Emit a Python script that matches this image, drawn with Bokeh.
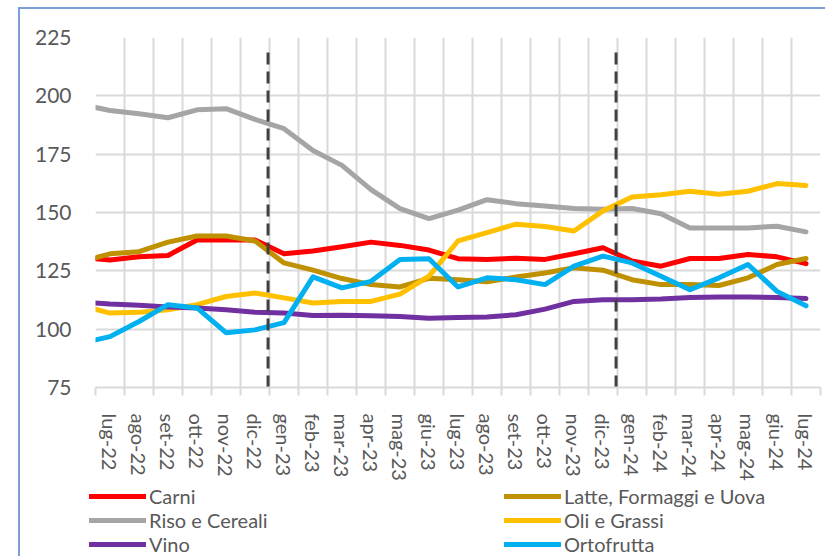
import numpy as np
from bokeh.plotting import figure
from bokeh.layouts import column
from bokeh.models import FixedTicker, Legend, LegendItem, Range1d, ColumnDataSource
from bokeh.embed import file_html
from bokeh.resources import INLINE

# months: first entry is the (hidden) month before the window, partly visible at the left edge
months = ['giu-22', 'lug-22', 'ago-22', 'set-22', 'ott-22', 'nov-22', 'dic-22',
          'gen-23', 'feb-23', 'mar-23', 'apr-23', 'mag-23', 'giu-23', 'lug-23',
          'ago-23', 'set-23', 'ott-23', 'nov-23', 'dic-23', 'gen-24', 'feb-24',
          'mar-24', 'apr-24', 'mag-24', 'giu-24', 'lug-24']

carni = [130.8, 129.6, 131.0, 131.6, 138.2, 138.2, 138.2, 132.3, 133.5, 135.3, 137.3, 135.9, 133.9,
         130.2, 129.9, 130.4, 129.9, 132.3, 134.9, 129.2, 127.0, 130.3, 130.3, 132.0, 131.0, 128.1]
latte = [128.9, 132.3, 133.2, 137.3, 139.9, 139.9, 137.8, 128.4, 125.3, 121.7, 119.1, 118.1, 121.8,
         121.2, 120.3, 122.4, 124.1, 126.3, 125.3, 121.2, 119.1, 119.1, 118.7, 122.0, 127.7, 130.3]
riso = [196.3, 193.7, 192.3, 190.6, 194.0, 194.5, 189.9, 185.9, 176.6, 170.2, 159.8, 151.7, 147.4,
        151.0, 155.5, 153.8, 152.8, 151.7, 151.4, 151.7, 149.5, 143.4, 143.4, 143.4, 144.1, 141.7]
oli = [110.1, 106.9, 107.2, 108.3, 110.5, 114.0, 115.5, 113.4, 111.2, 111.9, 111.9, 115.0, 122.7,
       137.8, 141.4, 145.0, 144.0, 142.1, 150.7, 156.6, 157.6, 159.1, 157.8, 159.1, 162.4, 161.6]
vino = [111.6, 110.8, 110.3, 109.5, 109.1, 108.3, 107.3, 106.9, 105.9, 106.0, 105.7, 105.4, 104.7,
        105.0, 105.2, 106.2, 108.6, 111.9, 112.6, 112.6, 112.9, 113.6, 113.8, 113.8, 113.6, 113.1]
orto = [94.0, 96.8, 103.3, 110.5, 109.1, 98.5, 99.7, 102.8, 122.4, 117.7, 120.5, 129.9, 130.2,
        118.1, 122.0, 121.2, 119.1, 127.0, 131.3, 128.4, 122.7, 116.9, 122.0, 127.7, 116.2, 110.0]

series_names = ["Carni", "Latte, Formaggi e Uova", "Riso e Cereali", "Oli e Grassi", "Vino", "Ortofrutta"]
series_values = [carni, latte, riso, oli, vino, orto]
series_colors = ["#FF0000", "#BF9000", "#A5A5A5", "#FFC000", "#7030A0", "#00B0F0"]

event_months = ['dic-22', 'dic-23']
y_ticks = [75, 100, 125, 150, 175, 200, 225]

FONT = "Lato"
TXT = "#595959"
W = 805

x = np.arange(len(months)) - 1          # index of 'lug-22' is 0
visible = list(range(len(months) - 1))  # 0..24
labels = {i: months[i + 1] for i in visible}

p = figure(frame_width=725, frame_height=350, output_backend="svg", toolbar_location=None,
           x_range=Range1d(-0.5, len(visible) - 0.5), y_range=Range1d(75, 225))
p.min_border_left = 75
p.min_border_top = 28
p.min_border_right = 5
p.min_border_bottom = 97
p.outline_line_color = None
p.background_fill_color = "white"
p.border_fill_color = "white"

# grids
p.xgrid.ticker = FixedTicker(ticks=[i - 0.5 for i in range(len(visible) + 1)])
p.ygrid.ticker = FixedTicker(ticks=y_ticks)
for g in (p.xgrid, p.ygrid):
    g.grid_line_color = "#D9D9D9"
    g.grid_line_width = 2

# x axis
xa = p.xaxis[0]
xa.ticker = FixedTicker(ticks=visible, minor_ticks=[i - 0.5 for i in range(len(visible) + 1)])
xa.major_label_overrides = labels
xa.major_label_orientation = "vertical"
xa.major_tick_line_color = None
xa.major_tick_out = 0
xa.major_tick_in = 0
xa.minor_tick_line_color = "#D9D9D9"
xa.minor_tick_line_width = 2
xa.minor_tick_out = 8
xa.minor_tick_in = 0
xa.axis_line_color = "#D9D9D9"
xa.axis_line_width = 2
xa.major_label_standoff = 18
xa.major_label_text_font = FONT
xa.major_label_text_font_size = "20px"
xa.major_label_text_color = TXT

# y axis
ya = p.yaxis[0]
ya.ticker = FixedTicker(ticks=y_ticks)
ya.axis_line_color = None
ya.major_tick_line_color = None
ya.minor_tick_line_color = None
ya.major_label_standoff = 18
ya.major_label_text_font = FONT
ya.major_label_text_font_size = "21px"
ya.major_label_text_color = TXT

for name, vals, col in zip(series_names, series_values, series_colors):
    src = ColumnDataSource(dict(x=x, y=vals))
    p.line("x", "y", source=src, line_color=col, line_width=5,
           line_cap="round", line_join="round")

# event lines (December markers)
ev_x = [months.index(m) - 1 + 0.45 for m in event_months]
p.segment(x0=ev_x, x1=ev_x, y0=[75] * len(ev_x), y1=[220] * len(ev_x),
          line_color="#404040", line_width=3, line_dash="12 7")

# legend strip below the chart (its own small plot; series lie outside its range)
LH = 72
pl = figure(width=W, height=LH, output_backend="svg", toolbar_location=None,
            x_range=Range1d(0, W), y_range=Range1d(0, LH))
pl.axis.visible = False
pl.grid.visible = False
pl.outline_line_color = None
pl.min_border_left = 0
pl.min_border_right = 0
pl.min_border_top = 0
pl.min_border_bottom = 0

leg_r = []
for name, vals, col in zip(series_names, series_values, series_colors):
    leg_r.append(pl.line(x=list(x), y=vals, line_color=col, line_width=5, line_cap="round"))

def make_legend(idx, loc):
    lg = Legend(items=[LegendItem(label=series_names[i], renderers=[leg_r[i]]) for i in idx],
                location=loc, orientation="vertical")
    lg.background_fill_alpha = 0
    lg.border_line_color = None
    lg.padding = 0
    lg.margin = 0
    lg.spacing = 0
    lg.glyph_width = 57
    lg.glyph_height = 24
    lg.label_height = 24
    lg.label_standoff = 3
    lg.label_text_font = FONT
    lg.label_text_font_size = "20px"
    lg.label_text_color = TXT
    return lg

# tuple location = bottom-left corner of the legend, in pixels from the strip's bottom-left
pl.add_layout(make_legend([0, 2, 4], (69, 0)))
pl.add_layout(make_legend([1, 3, 5], (484, 0)))

layout = column(p, column(pl), spacing=0)
layout.styles = {"border-left": "2px solid #7C9ED8", "border-top": "2px solid #7C9ED8",
                 "margin-left": "18px", "margin-top": "7px"}

open("out.html", "w").write(file_html(layout, INLINE))
